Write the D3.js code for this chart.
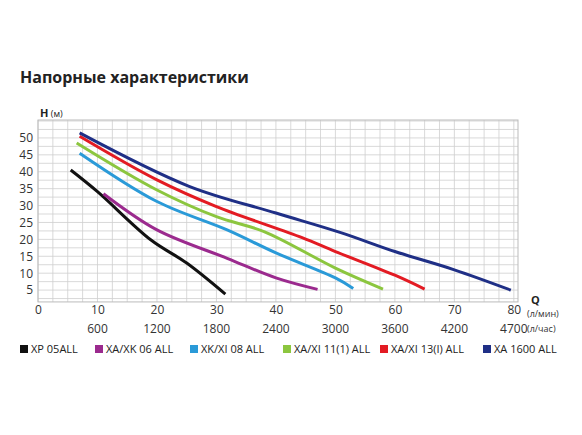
<!DOCTYPE html>
<html><head><meta charset="utf-8">
<script src="https://cdn.jsdelivr.net/npm/d3@7"></script>
<style>body{margin:0;background:#fff;font-family:"Open Sans",sans-serif}</style>
</head><body>
<script>
var series_names = ['XP 05ALL','XA/XK 06 ALL','XK/XI 08 ALL','XA/XI 11(1) ALL','XA/XI 13(I)  ALL','XA 1600 ALL'];
var series_colors = ['#111111','#9b2a8e','#2a9ad8','#8cc63f','#e31b23','#1f2f86'];
var xp05 = [[5.5,40.5],[10,34.1],[19,19.8],[25,13],[31.5,3.8]];
var xa06 = [[11,33.5],[20,22.8],[31.8,14.4],[40,8.6],[47,5.2]];
var xk08 = [[7,45.5],[20,31.2],[31.8,22.8],[40,16],[50,8.6],[53,5.5]];
var xa11 = [[6.5,48.5],[20,34.6],[30,26.7],[38,22.3],[50,11.5],[58,5.3]];
var xa13 = [[7,50.5],[20,37.6],[30,29.7],[44.4,20.5],[50,16.4],[60,9.4],[65,5.3]];
var xa16 = [[7,51.5],[25.4,35.7],[40,27.8],[50.9,22],[60,16.4],[70,11],[79.5,5]];
var all_series = [xp05,xa06,xk08,xa11,xa13,xa16];
var q_ticks = [0,10,20,30,40,50,60,70,80];
var h_ticks = [5,10,15,20,25,30,35,40,45,50];
var lh_labels = ['600','1200','1800','2400','3000','3600','4200','4700'];

var svg = d3.select('body').append('svg').attr('width',582).attr('height',435);
var x = d3.scaleLinear().domain([0,80.7]).range([38,518]);
var y = d3.scaleLinear().domain([0,55.3]).range([307,120]);

svg.append('text').attr('x',20).attr('y',83).text('Напорные характеристики')
  .style('font-size','16px').style('font-weight','bold').attr('fill','#222');

// grid
var grid = svg.append('g').attr('stroke','#cfcfcf').attr('stroke-width',0.8);
grid.selectAll('line.v').data(d3.range(0,80.71,2.5)).enter().append('line')
  .attr('x1',d=>x(d)).attr('x2',d=>x(d)).attr('y1',y(55.3)).attr('y2',y(1.5));
grid.selectAll('line.h').data(d3.range(2.5,55.3,2.5)).enter().append('line')
  .attr('y1',d=>y(d)).attr('y2',d=>y(d)).attr('x1',x(0)).attr('x2',x(80.7));
svg.append('rect').attr('x',x(0)).attr('y',y(55.3)).attr('width',x(80.7)-x(0)).attr('height',y(1.5)-y(55.3))
  .attr('fill','none').attr('stroke','#bbb');

var yAxis = svg.append('g').attr('transform','translate(35,0)')
  .call(d3.axisLeft(y).tickValues(h_ticks).tickSize(0).tickPadding(2));
yAxis.select('.domain').remove();
var xAxis = svg.append('g').attr('transform','translate(0,302)')
  .call(d3.axisBottom(x).tickValues(q_ticks).tickSize(0).tickPadding(3));
xAxis.select('.domain').remove();
svg.selectAll('.tick text').style('font-size','12px').style('font-family','Open Sans').attr('fill','#333');

svg.selectAll('text.lh').data(lh_labels).enter().append('text')
  .attr('x',(d,i)=>x(q_ticks[i+1])).attr('y',333).attr('text-anchor','middle')
  .text(d=>d).style('font-size','12px').attr('fill','#333');

svg.append('text').attr('x',40).attr('y',117).text('H').style('font-size','11px').style('font-weight','bold').attr('fill','#222')
  .append('tspan').text(' (м)').style('font-weight','normal').style('font-size','9px');
svg.append('text').attr('x',531).attr('y',304).text('Q').style('font-size','11px').style('font-weight','bold').attr('fill','#222');
svg.append('text').attr('x',527).attr('y',317).text('(л/мин)').style('font-size','9px').attr('fill','#333');
svg.append('text').attr('x',527).attr('y',332).text('(л/час)').style('font-size','9px').attr('fill','#333');

var line = d3.line().x(d=>x(d[0])).y(d=>y(d[1])).curve(d3.curveCatmullRom);
svg.selectAll('path.curve').data(all_series).enter().append('path')
  .attr('d',line).attr('fill','none').attr('stroke',(d,i)=>series_colors[i]).attr('stroke-width',3);

var legX = [20,95,190,283,380,483];
var leg = svg.selectAll('g.leg').data(series_names).enter().append('g')
  .attr('transform',(d,i)=>'translate('+legX[i]+',345)');
leg.append('rect').attr('width',8).attr('height',8).attr('fill',(d,i)=>series_colors[i]);
leg.append('text').attr('x',11).attr('y',8).text(d=>d).style('font-size','11px').attr('fill','#222');
</script>
</body></html>
